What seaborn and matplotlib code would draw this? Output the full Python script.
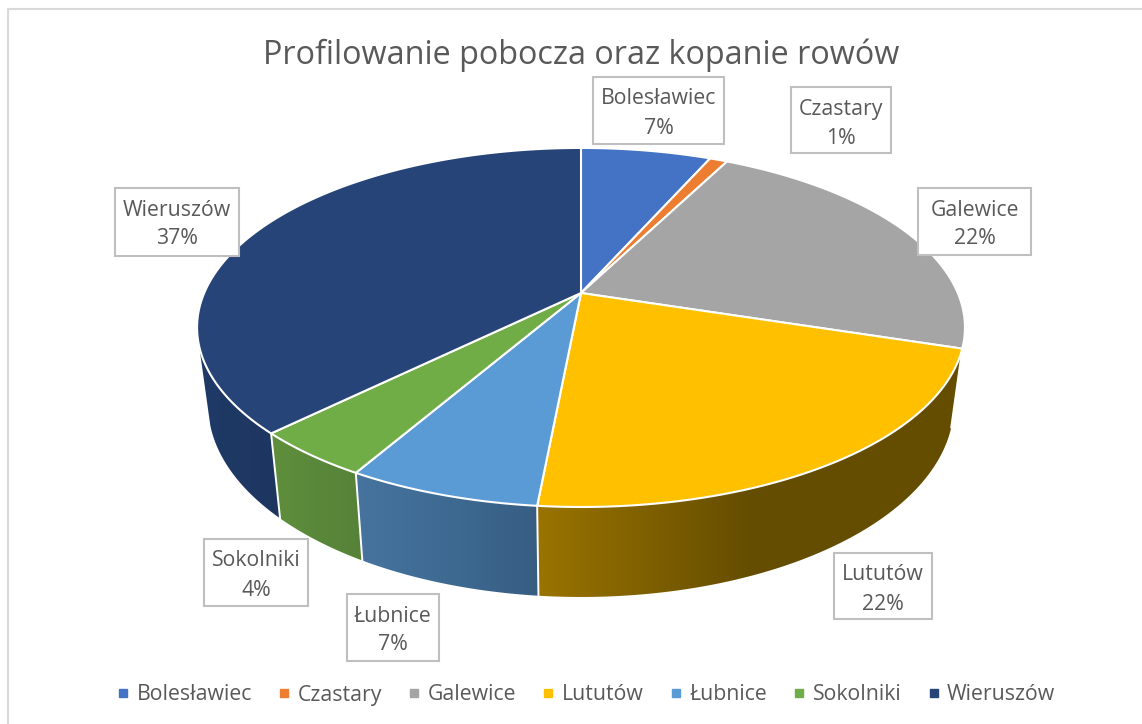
import numpy as np
import matplotlib
matplotlib.use("Agg")
import matplotlib.pyplot as plt
from matplotlib.colors import LinearSegmentedColormap
from matplotlib.lines import Line2D
from matplotlib.patches import Polygon
import seaborn as sns

TITLE = "Profilowanie pobocza oraz kopanie rowów"
categories = ["Bolesławiec", "Czastary", "Galewice", "Lututów", "Łubnice", "Sokolniki", "Wieruszów"]
shares = [6.6, 0.9, 22.4, 21.6, 6.8, 4.3, 37.4]

top_colors = ["#4472c4", "#ed7d31", "#a5a5a5", "#ffc000", "#5b9bd5", "#70ad47", "#264478"]
side_colors = {
    "Lututów": ["#9a7400", "#654d00", "#654d00"],
    "Łubnice": ["#46749f", "#3e6a92", "#375d82"],
    "Sokolniki": ["#5f8f3c", "#5a883a", "#568238"],
    "Wieruszów": ["#1e3a66", "#1f3864", "#1d3660"],
}

# label boxes in pixels: left, right, top, bottom
label_boxes = {
    "Bolesławiec": (593, 724, 77, 144),
    "Czastary": (791, 891, 87, 153),
    "Galewice": (918, 1031, 188, 255),
    "Lututów": (834, 932, 553, 619),
    "Łubnice": (347, 439, 594, 661),
    "Sokolniki": (204, 308, 539, 606),
    "Wieruszów": (115, 239, 188, 256),
}

# perspective of the pie in pixels
CX, CY = 581, 293
RX, RY = 376.8, 172.9
PERSP = 0.192
LAST_SIDE_ANGLE = 253
GRAY = "#595959"

sns.set_theme(style="white")
plt.rcParams["font.family"] = ["Open Sans", "DejaVu Sans"]


def rim(angle):
    # angle in degrees clockwise from 12 o'clock
    t = np.radians(angle)
    w = 1 + PERSP * np.cos(t)
    return CX + RX * np.sin(t) / w, CY - RY * np.cos(t) / w


def lower(x, y):
    return CX + (x - CX) * 0.971, y + 90 + 0.069 * (y - 507)


fig = plt.figure(figsize=(11.42, 7.24), dpi=100)
ax = fig.add_axes([0, 0, 1, 1])
palette = sns.color_palette(top_colors)

edges = np.concatenate([[0], np.cumsum(shares)]) / sum(shares) * 360

# sides first, front ones only
for i, name in enumerate(categories):
    if name not in side_colors:
        continue
    a = np.linspace(edges[i], min(edges[i + 1], LAST_SIDE_ANGLE), 80)
    tx, ty = rim(a)
    bx, by = lower(tx, ty)
    pts = np.column_stack([np.r_[tx, bx[::-1]], np.r_[ty, by[::-1]]])
    patch = Polygon(pts, closed=True, facecolor="none", edgecolor="none", zorder=2)
    ax.add_patch(patch)
    cmap = LinearSegmentedColormap.from_list(name, side_colors[name])
    grad = np.linspace(0, 1, 256).reshape(1, -1)
    x0, x1 = pts[:, 0].min(), pts[:, 0].max()
    im = ax.imshow(grad, extent=[x0, x1, pts[:, 1].max(), pts[:, 1].min()], cmap=cmap, aspect="auto", zorder=2)
    im.set_clip_path(patch)
    # white seam between neighbouring sides
    ax.plot([tx[0], bx[0]], [ty[0], by[0]], color="white", lw=1.4, zorder=3)

# top faces
for i, name in enumerate(categories):
    a = np.linspace(edges[i], edges[i + 1], 120)
    tx, ty = rim(a)
    ax.fill(np.r_[CX, tx], np.r_[CY, ty], facecolor=palette[i], edgecolor="white", lw=1.5,
            joinstyle="round", zorder=4)

# data labels
for name, share in zip(categories, shares):
    left, right, top, bottom = label_boxes[name]
    ax.fill([left, right, right, left], [top, top, bottom, bottom], facecolor="white",
            edgecolor="#bfbfbf", lw=1.5, zorder=5)
    xm = (left + right) / 2
    ax.text(xm, top + 22, name, color=GRAY, fontsize=15.3, ha="center", va="center", zorder=6)
    ax.text(xm, top + 51, f"{share:.0f}%", color=GRAY, fontsize=15.3, ha="center", va="center", zorder=6)

ax.text(581, 55, TITLE, color=GRAY, fontsize=23.3, ha="center", va="center")

# chart frame, cropped on right and bottom
ax.plot([7.5, 7.5, 1142], [724, 8.5, 8.5], color="#d9d9d9", lw=1.5, zorder=1)

handles = [Line2D([], [], marker="s", linestyle="none", color=c, markersize=6) for c in palette]
fig.legend(handles, categories, loc="center", bbox_to_anchor=(587 / 1142, 1 - 695 / 724), ncol=7,
           frameon=False, fontsize=15.3, labelcolor=GRAY, handlelength=0.4, handletextpad=0.44,
           columnspacing=1.31, borderpad=0, borderaxespad=0)

ax.set_xlim(0, 1142)
ax.set_ylim(724, 0)
ax.axis("off")

fig.savefig("out.png", dpi=100, facecolor="white")
